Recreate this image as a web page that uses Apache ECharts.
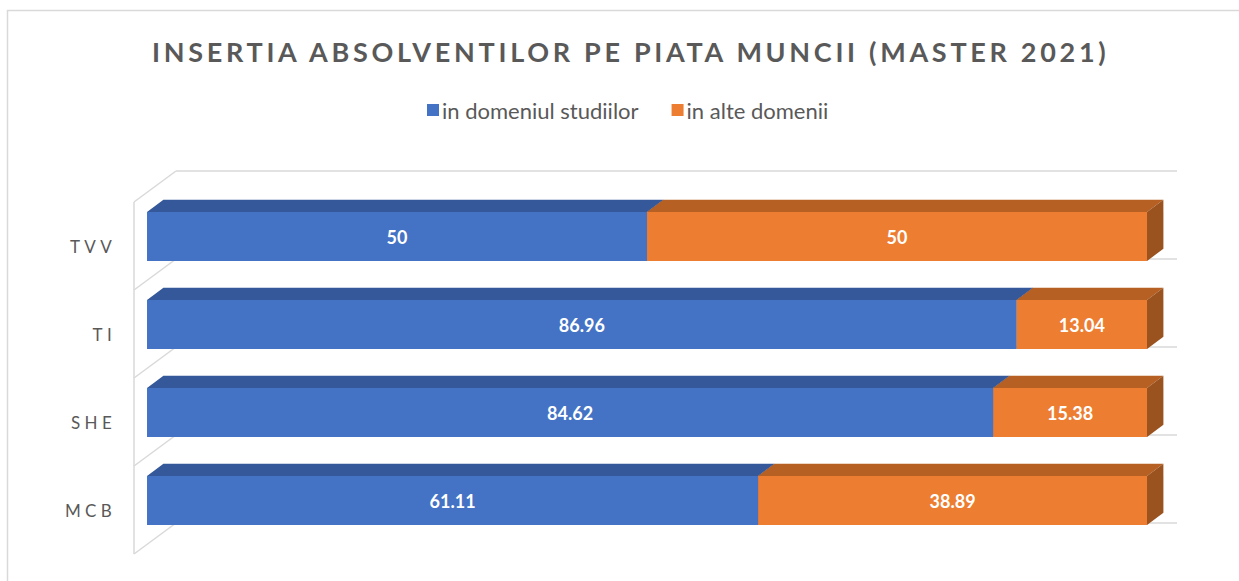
<!DOCTYPE html>
<html><head><meta charset="utf-8">
<script src="https://cdn.jsdelivr.net/npm/echarts@6/dist/echarts.min.js"></script>
<style>html,body{margin:0;padding:0;background:#fff}#chart{width:1239px;height:581px}</style>
</head><body><div id="chart"></div>
<script>
// ---- data ----
const titleText = 'INSERTIA ABSOLVENTILOR PE PIATA MUNCII (MASTER 2021)';
const categories = ['MCB', 'SHE', 'TI', 'TVV'];
const seriesNames = ['in domeniul studiilor', 'in alte domenii'];
const inDomeniu = [61.11, 84.62, 86.96, 50];
const inAlte = [38.89, 15.38, 13.04, 50];

// ---- 3D look ----
const DEPTH = [42, -31];
const D_FRONT = 0.31, D_BACK = 0.70;
const BAR_FRAC = 0.557;
const BLUE = {front: '#4472C4', top: '#35589A', side: '#2D4C86'};
const ORANGE = {front: '#ED7D31', top: '#B66023', side: '#9A521E'};

function segData(vals, bases) { return vals.map((v, i) => [i, bases[i], bases[i] + v, v]); }
const zeros = categories.map(() => 0);
const blueData = segData(inDomeniu, zeros);
const orangeData = segData(inAlte, inDomeniu);

function barRender(colors) {
  return function (params, api) {
    const cat = api.value(0), s = api.value(1), e = api.value(2), v = api.value(3);
    const p0 = api.coord([s, cat]), p1 = api.coord([e, cat]);
    const band = api.size([0, 1])[1];
    const h = band * BAR_FRAC;
    const fx = D_FRONT * DEPTH[0], fy = D_FRONT * DEPTH[1];
    const bx = (D_BACK - D_FRONT) * DEPTH[0], by = (D_BACK - D_FRONT) * DEPTH[1];
    const x0 = p0[0] + fx, x1 = p1[0] + fx, yT = p0[1] + fy - h / 2, yB = p0[1] + fy + h / 2;
    return {type: 'group', children: [
      {type: 'polygon', shape: {points: [[x0, yT], [x1, yT], [x1 + bx, yT + by], [x0 + bx, yT + by]]}, style: {fill: colors.top}},
      {type: 'polygon', shape: {points: [[x1, yT], [x1 + bx, yT + by], [x1 + bx, yB + by], [x1, yB]]}, style: {fill: colors.side}},
      {type: 'rect', shape: {x: x0, y: yT, width: x1 - x0, height: yB - yT}, style: {fill: colors.front}},
      {type: 'text', x: (x0 + x1) / 2, y: (yT + yB) / 2 + 1, style: {text: String(v), fill: '#fff', font: 'bold 18px Lato',
        align: 'center', verticalAlign: 'middle', textAlign: 'center', textVerticalAlign: 'middle'}}
    ]};
  };
}

function wallRender(params, api) {
  const cat = api.value(0);
  const c = api.coord([0, cat]);
  const cEnd = api.coord([100, cat]);
  const band = api.size([0, 1])[1];
  const style = {stroke: '#D9D9D9', lineWidth: 1.5, fill: null};
  const lines = [];
  const addBoundary = y => {
    lines.push({type: 'line', shape: {x1: c[0], y1: y, x2: c[0] + DEPTH[0], y2: y + DEPTH[1]}, style});
    lines.push({type: 'line', shape: {x1: c[0] + DEPTH[0], y1: y + DEPTH[1], x2: cEnd[0] + DEPTH[0] + 1, y2: y + DEPTH[1]}, style});
  };
  addBoundary(c[1] - band / 2);
  if (cat === 0) addBoundary(c[1] + band / 2);
  lines.push({type: 'line', shape: {x1: c[0], y1: c[1] - band / 2, x2: c[0], y2: c[1] + band / 2}, style});
  return {type: 'group', children: lines};
}

const chart = echarts.init(document.getElementById('chart'), null, {renderer: 'svg'});
chart.setOption({
  animation: false,
  backgroundColor: '#fff',
  title: {text: titleText, left: 147, top: 33,
    textStyle: {fontFamily: 'Lato', fontWeight: 'bold', fontSize: 27, color: '#595959'}},
  legend: {data: seriesNames, left: 422, top: 94, icon: 'rect', itemWidth: 12, itemHeight: 12, itemGap: 33,
    textStyle: {fontFamily: 'Lato', fontSize: 22, color: '#595959', padding: [0, 0, 0, -2]}},
  graphic: [{type: 'rect', shape: {x: 7.5, y: 10.5, width: 1300, height: 700}, style: {fill: null, stroke: '#D9D9D9', lineWidth: 1.5}, silent: true, z: -10}],
  grid: {left: 134, top: 202, width: 1000, height: 352},
  xAxis: {type: 'value', min: 0, max: 100, show: false},
  yAxis: {type: 'category', data: categories, axisLine: {show: false}, axisTick: {show: false},
    axisLabel: {color: '#595959', fontFamily: 'Lato', fontSize: 17, margin: 18}},
  series: [
    {type: 'custom', name: 'walls', silent: true, z: 1, renderItem: wallRender,
      data: categories.map((c, i) => [i, 0]), encode: {y: 0, x: 1}},
    {type: 'custom', name: seriesNames[0], z: 2, itemStyle: {color: BLUE.front}, renderItem: barRender(BLUE),
      data: blueData, encode: {y: 0, x: [1, 2]}},
    {type: 'custom', name: seriesNames[1], z: 3, itemStyle: {color: ORANGE.front}, renderItem: barRender(ORANGE),
      data: orangeData, encode: {y: 0, x: [1, 2]}}
  ]
});

function spacing() {
  document.querySelectorAll('#chart text').forEach(t => {
    const s = t.textContent;
    if (s === titleText) t.style.letterSpacing = '3.7px';
    else if (categories.includes(s)) t.style.letterSpacing = '4.3px';
  });
}
chart.on('finished', spacing);
spacing();
setTimeout(spacing, 0);
</script></body></html>
